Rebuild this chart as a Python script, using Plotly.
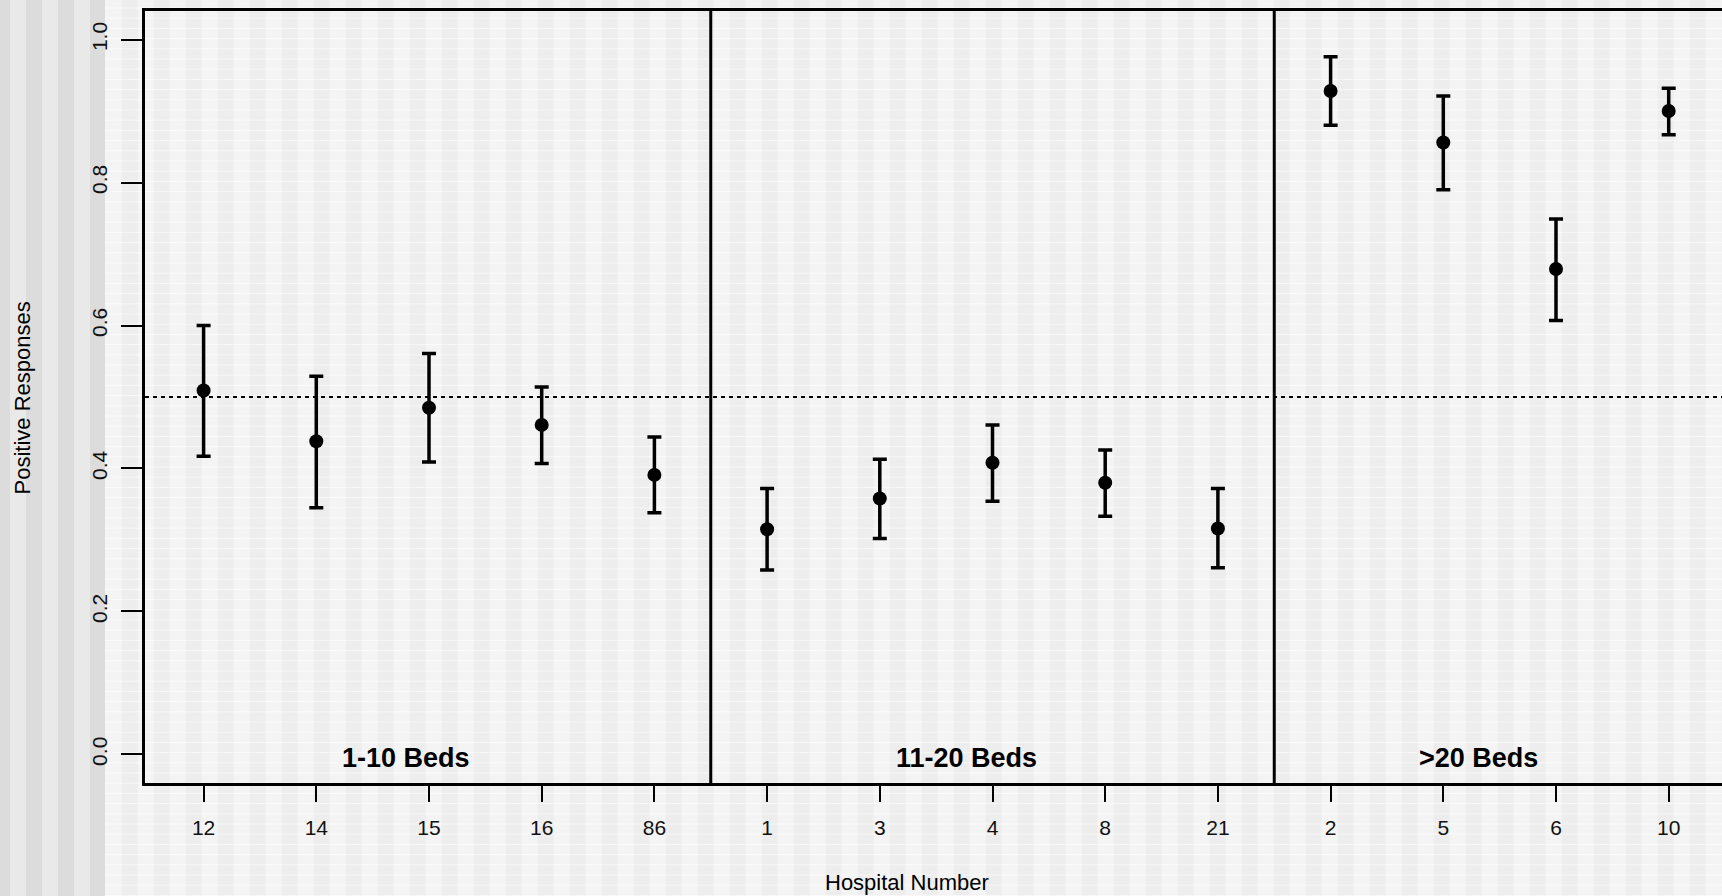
import plotly.graph_objects as go

# ---------------- data ----------------
hospitals = ["12", "14", "15", "16", "86", "1", "3", "4", "8", "21", "2", "5", "6", "10"]
proportion = [0.509, 0.438, 0.485, 0.461, 0.391, 0.315, 0.358, 0.408, 0.380, 0.316, 0.928, 0.856, 0.679, 0.900]
upper = [0.600, 0.529, 0.561, 0.514, 0.444, 0.372, 0.413, 0.461, 0.426, 0.372, 0.976, 0.921, 0.749, 0.932]
lower = [0.417, 0.345, 0.409, 0.407, 0.338, 0.258, 0.302, 0.354, 0.333, 0.261, 0.880, 0.790, 0.607, 0.867]
group_labels = ["1-10 Beds", "11-20 Beds", ">20 Beds"]
group_label_pos = [2.80, 7.77, 12.31]
group_separators = [5.5, 10.5]
reference_level = 0.5
y_ticks = [0.0, 0.2, 0.4, 0.6, 0.8, 1.0]

positions = list(range(1, len(hospitals) + 1))
err_plus = [u - p for u, p in zip(upper, proportion)]
err_minus = [p - l for p, l in zip(proportion, lower)]

# ---------------- geometry ----------------
W, H = 1722, 896
ML, MR, MT, MB = 145, 0, 11, 113
PW, PH = W - ML - MR, H - MT - MB
px_per_unit = 112.7
x0 = 0.48
x1 = x0 + PW / px_per_unit


def pxx(px):
    return (px - ML) / PW


def pxy(py):
    return (H - MB - py) / PH


FONT = "Arial, Liberation Sans, sans-serif"

fig = go.Figure()
fig.add_trace(go.Scatter(
    x=positions, y=proportion, mode="markers",
    marker=dict(color="black", size=14, symbol="circle"),
    error_y=dict(type="data", symmetric=False, array=err_plus, arrayminus=err_minus,
                 color="black", thickness=3.5, width=7),
    showlegend=False, hoverinfo="skip", cliponaxis=False,
))

shapes = []
# background texture
shapes.append(dict(type="rect", xref="paper", yref="paper", x0=pxx(0), x1=pxx(W), y0=pxy(H), y1=pxy(0),
                   fillcolor="#f4f4f4", line=dict(width=0), layer="below"))
# left coarse stripes
shapes.append(dict(type="rect", xref="paper", yref="paper", x0=pxx(0), x1=pxx(105), y0=pxy(H), y1=pxy(0),
                   fillcolor="#e9e9e9", line=dict(width=0), layer="below"))
sx = -6
while sx < 105:
    shapes.append(dict(type="rect", xref="paper", yref="paper", x0=pxx(max(sx, 0)), x1=pxx(min(sx + 16, 105)),
                       y0=pxy(H), y1=pxy(0), fillcolor="#dcdcdc", line=dict(width=0), layer="below"))
    sx += 32
# fine stripes
sx = 121.7
while sx < W:
    shapes.append(dict(type="rect", xref="paper", yref="paper", x0=pxx(sx), x1=pxx(min(sx + 16, W)),
                       y0=pxy(H), y1=pxy(0), fillcolor="#ededed", line=dict(width=0), layer="below"))
    sx += 32
sy = 8.0
while sy < H:
    shapes.append(dict(type="line", xref="paper", yref="paper", x0=pxx(105), x1=pxx(W), y0=pxy(sy), y1=pxy(sy),
                       line=dict(color="rgba(255,255,255,0.6)", width=1), layer="below"))
    sy += 10.2

# separators
for s in group_separators:
    shapes.append(dict(type="line", xref="x", yref="paper", x0=s, x1=s, y0=0, y1=1,
                       line=dict(color="black", width=3)))
# reference line
shapes.append(dict(type="line", xref="paper", yref="y", x0=0, x1=1, y0=reference_level, y1=reference_level,
                   line=dict(color="black", width=1.8, dash="4px,4px")))

annotations = []
for lab, pos in zip(group_labels, group_label_pos):
    annotations.append(dict(x=pos, y=0.0, xref="x", yref="y", text=f"<b>{lab}</b>", showarrow=False,
                            xanchor="center", yanchor="middle", yshift=-4,
                            font=dict(family=FONT, size=27, color="black")))
annotations.append(dict(x=pxx(906.7), y=pxy(882), xref="paper", yref="paper", text="Hospital Number",
                        showarrow=False, xanchor="center", yanchor="middle",
                        font=dict(family=FONT, size=22, color="black")))
annotations.append(dict(x=pxx(22), y=pxy(397.5), xref="paper", yref="paper", text="Positive Responses",
                        showarrow=False, xanchor="center", yanchor="middle", textangle=-90,
                        font=dict(family=FONT, size=22, color="black")))

fig.update_layout(
    width=W, height=H,
    margin=dict(l=ML, r=MR, t=MT, b=MB, pad=0),
    paper_bgcolor="#f4f4f4", plot_bgcolor="rgba(0,0,0,0)",
    shapes=shapes, annotations=annotations,
    font=dict(family=FONT, color="black"),
    xaxis=dict(range=[x0, x1], tickmode="array", tickvals=positions, ticktext=hospitals,
               showgrid=False, zeroline=False, showline=True, mirror=True, linecolor="black", linewidth=3,
               ticks="outside", ticklen=16, tickwidth=2, tickcolor="black",
               tickfont=dict(family=FONT, size=21, color="#111"), ticklabelstandoff=8),
    yaxis=dict(range=[-0.04, 1.04], tickmode="array", tickvals=y_ticks,
               ticktext=[f"{v:.1f}" for v in y_ticks],
               showgrid=False, zeroline=False, showline=True, mirror=False, linecolor="black", linewidth=3,
               ticks="outside", ticklen=21, tickwidth=2, tickcolor="black", tickangle=-90,
               tickfont=dict(family=FONT, size=21, color="#111"), ticklabelstandoff=6),
)

fig.write_html("out.html")
